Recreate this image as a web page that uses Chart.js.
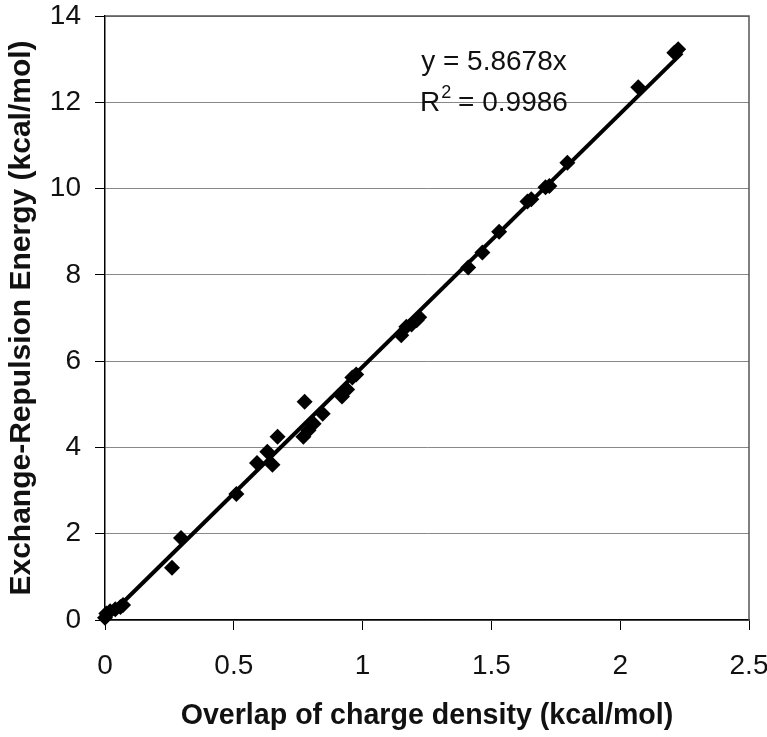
<!DOCTYPE html>
<html>
<head>
<meta charset="utf-8">
<script src="https://cdn.jsdelivr.net/npm/chart.js@4.4.1/dist/chart.umd.min.js"></script>
<style>
  html, body { margin: 0; padding: 0; background: #fff; }
  #wrap { width: 767px; height: 737px; }
</style>
</head>
<body>
<div id="wrap"><canvas id="chart"></canvas></div>
<script>
/* --- Data ---------------------------------------------------- */
const OVERLAP = [
  0.00, 0.005, 0.02, 0.04, 0.06, 0.07,
  0.26, 0.295, 0.51, 0.59, 0.63, 0.65, 0.67,
  0.77, 0.775, 0.79, 0.81, 0.845, 0.92, 0.94, 0.96, 0.975,
  1.15, 1.17, 1.19, 1.21, 1.22, 1.41, 1.465, 1.53,
  1.64, 1.655, 1.71, 1.725, 1.795, 2.07, 2.21, 2.225
];
const EXREP = [
  0.05, 0.15, 0.2, 0.25, 0.3, 0.35,
  1.21, 1.9, 2.92, 3.64, 3.9, 3.6, 4.25,
  4.25, 5.06, 4.4, 4.55, 4.78, 5.18, 5.34, 5.62, 5.69,
  6.6, 6.8, 6.85, 6.95, 7.02, 8.17, 8.52, 9.0,
  9.7, 9.75, 10.03, 10.06, 10.6, 12.35, 13.15, 13.23
];
const FIT_SLOPE = 5.8678;
const FIT_RANGE = [0, 2.24];
const EQ_TEXT = 'y = 5.8678x';
const R2_TEXT = ['R', '2', ' = 0.9986'];

const X_TICKS = [0, 0.5, 1, 1.5, 2, 2.5];
const Y_TICKS = [0, 2, 4, 6, 8, 10, 12, 14];

const FONT = 'Arial, "Liberation Sans", sans-serif';

/* --- Plugins ------------------------------------------------- */
const frame = {
  id: 'frame',
  beforeDatasetsDraw(chart) {
    const { ctx, chartArea: a } = chart;
    ctx.save();
    ctx.strokeStyle = '#555';
    ctx.lineWidth = 1.5;
    ctx.beginPath();
    ctx.moveTo(a.left, a.top);
    ctx.lineTo(a.right, a.top);
    ctx.lineTo(a.right, a.bottom);
    ctx.stroke();
    ctx.restore();
  }
};

const fitLabel = {
  id: 'fitLabel',
  afterDraw(chart) {
    const { ctx, scales: { x, y } } = chart;
    const cx = x.getPixelForValue(1.51);
    ctx.save();
    ctx.fillStyle = '#111';
    ctx.textBaseline = 'middle';
    ctx.font = '28px ' + FONT;
    ctx.textAlign = 'center';
    ctx.fillText(EQ_TEXT, cx, y.getPixelForValue(12.93));
    // R² with superscript
    const ry = y.getPixelForValue(11.98);
    const w0 = ctx.measureText(R2_TEXT[0]).width;
    ctx.font = '18px ' + FONT;
    const w1 = ctx.measureText(R2_TEXT[1]).width;
    ctx.font = '28px ' + FONT;
    const w2 = ctx.measureText(R2_TEXT[2]).width;
    const sx = cx - (w0 + w1 + w2) / 2;
    ctx.textAlign = 'left';
    ctx.fillText(R2_TEXT[0], sx, ry);
    ctx.font = '18px ' + FONT;
    ctx.fillText(R2_TEXT[1], sx + w0 + 1, ry - 10);
    ctx.font = '28px ' + FONT;
    ctx.fillText(R2_TEXT[2], sx + w0 + w1, ry);
    ctx.restore();
  }
};

/* --- Chart --------------------------------------------------- */
new Chart(document.getElementById('chart'), {
  type: 'scatter',
  data: {
    datasets: [
      {
        label: 'Linear fit',
        type: 'line',
        data: FIT_RANGE.map(v => ({ x: v, y: FIT_SLOPE * v })),
        borderColor: '#000',
        borderWidth: 4,
        pointRadius: 0,
        fill: false,
        order: 1
      },
      {
        label: 'Data',
        data: OVERLAP.map((v, i) => ({ x: v, y: EXREP[i] })),
        pointStyle: 'rectRot',
        pointRadius: 8,
        pointBackgroundColor: '#000',
        pointBorderColor: '#000',
        pointBorderWidth: 0,
        order: 0
      }
    ]
  },
  options: {
    responsive: true,
    maintainAspectRatio: false,
    animation: false,
    clip: false,
    layout: { padding: { top: 16, right: 18, left: 0, bottom: 0 } },
    plugins: {
      legend: { display: false },
      tooltip: { enabled: false }
    },
    scales: {
      x: {
        type: 'linear',
        min: 0, max: 2.5,
        afterBuildTicks: s => { s.ticks = X_TICKS.map(v => ({ value: v })); },
        afterFit: s => { s.height = 117; s.paddingLeft = 0; s.paddingRight = 0; },
        border: { display: true, color: '#000', width: 1.5 },
        grid: { drawOnChartArea: false, drawTicks: true, tickLength: 10, tickColor: '#000' },
        ticks: { color: '#111', font: { family: FONT, size: 28 }, padding: 19, maxRotation: 0, callback: v => String(v) },
        title: {
          display: true,
          text: 'Overlap of charge density (kcal/mol)',
          color: '#111',
          font: { family: FONT, size: 28.6, weight: 'bold' },
          padding: { top: 2 }
        }
      },
      y: {
        type: 'linear',
        min: 0, max: 14,
        afterBuildTicks: s => { s.ticks = Y_TICKS.map(v => ({ value: v })); },
        afterFit: s => { s.width = 105; s.paddingTop = 0; s.paddingBottom = 0; },
        border: { display: true, color: '#000', width: 1.5 },
        grid: { color: '#888', lineWidth: 1, drawTicks: true, tickLength: 10, tickColor: '#000' },
        ticks: { color: '#111', font: { family: FONT, size: 28 }, padding: 14, callback: v => String(v) },
        title: {
          display: true,
          text: 'Exchange-Repulsion Energy (kcal/mol)',
          color: '#111',
          font: { family: FONT, size: 30, weight: 'bold' },
          padding: { bottom: 4 }
        }
      }
    }
  },
  plugins: [frame, fitLabel]
});
</script>
</body>
</html>
